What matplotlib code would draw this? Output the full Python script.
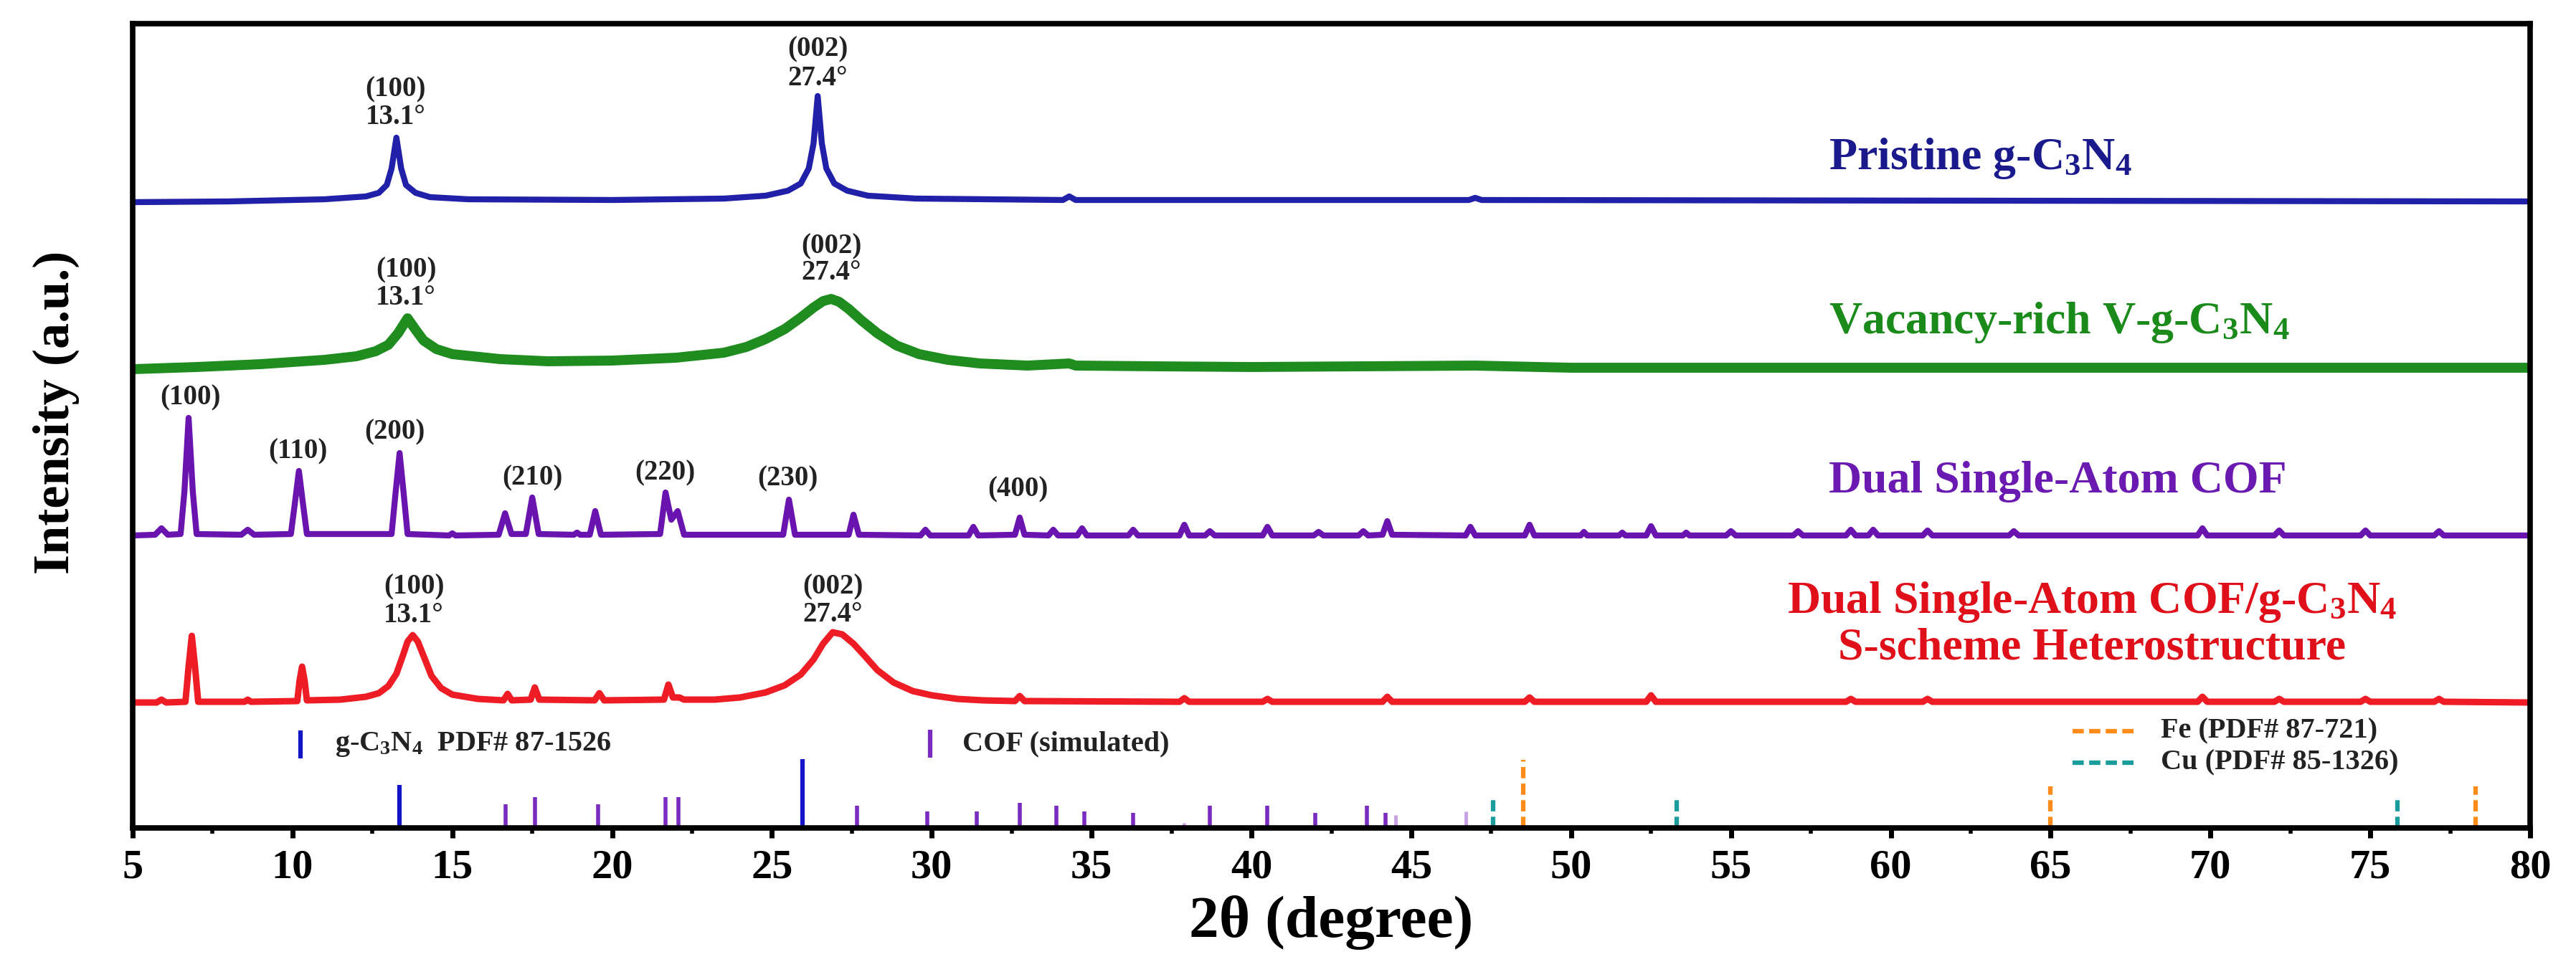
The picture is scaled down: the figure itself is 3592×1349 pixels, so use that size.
import numpy as np
import matplotlib.pyplot as plt
from matplotlib.ticker import MultipleLocator

plt.rcParams['font.family'] = ['Liberation Serif', 'DejaVu Serif']
plt.rcParams['font.weight'] = 'bold'
plt.rcParams['axes.labelweight'] = 'bold'
plt.rcParams['mathtext.fontset'] = 'custom'
plt.rcParams['mathtext.rm'] = 'Liberation Serif:bold'
plt.rcParams['mathtext.it'] = 'Liberation Serif:bold'
plt.rcParams['mathtext.bf'] = 'Liberation Serif:bold'
plt.rcParams['mathtext.default'] = 'rm'

# ---- patterns (2theta, stacked intensity a.u.) ----
blue_x = [5, 8, 11, 12.3, 12.7, 12.95, 13.1, 13.25, 13.4, 13.55, 13.85, 14.3, 15.5, 20,
          23.5, 24.8, 25.5, 25.9, 26.15, 26.3, 26.43, 26.56, 26.7, 26.95, 27.35, 28.0,
          29.5, 34.1, 34.3, 34.5, 46.8, 47.0, 47.2, 80]
blue_y = [873, 874, 877, 881, 886, 897, 920, 963, 920, 897, 886, 880, 877, 876,
          878, 882, 889, 899, 920, 955, 1021, 955, 920, 899, 889, 882,
          878, 876, 881, 876, 876, 879, 876, 874]

green_x = [5, 7, 9, 11, 12.0, 12.6, 13.0, 13.3, 13.6, 13.85, 14.1, 14.5, 15.0, 16.5, 18,
           20, 22, 23.5, 24.2, 24.8, 25.4, 25.9, 26.3, 26.6, 26.85, 27.1, 27.4, 27.8,
           28.3, 28.9, 29.6, 30.5, 31.5, 33, 34.3, 34.5, 37, 40, 47, 50, 80]
green_y = [640, 643, 647, 653, 658, 665, 674, 690, 711, 695, 680, 668, 661, 654, 651,
           652, 656, 663, 671, 682, 696, 712, 726, 735, 738, 734, 724, 708,
           690, 673, 661, 653, 648, 645, 648, 645, 644, 643, 645, 642, 642]

cof_x = [5, 5.7, 5.9, 6.1, 6.5, 6.62, 6.75, 6.88, 7.0, 8.4, 8.6, 8.8, 9.95, 10.08, 10.2,
         10.32, 10.45, 13.1, 13.23, 13.35, 13.47, 13.6, 14.9, 15.0, 15.1, 16.45, 16.65,
         16.85, 17.3, 17.5, 17.7, 18.8, 18.9, 19.0, 19.3, 19.47, 19.65, 21.5, 21.67,
         21.85, 22.05, 22.25, 25.35, 25.53, 25.72, 27.4, 27.55, 27.72, 29.65, 29.8,
         29.95, 31.15, 31.3, 31.45, 32.6, 32.75, 32.9, 33.65, 33.8, 33.95, 34.55, 34.7,
         34.85, 36.15, 36.3, 36.45, 37.75, 37.9, 38.05, 38.55, 38.7, 38.85, 40.35, 40.5,
         40.65, 41.95, 42.1, 42.25, 43.35, 43.5, 43.65, 44.1, 44.25, 44.4, 46.7, 46.85,
         47.0, 48.55, 48.7, 48.85, 50.3, 50.4, 50.5, 51.5, 51.6, 51.7, 52.35, 52.5, 52.65,
         53.5, 53.6, 53.7, 54.85, 55.0, 55.15, 56.95, 57.1, 57.25, 58.6, 58.75, 58.9,
         59.3, 59.45, 59.6, 61.0, 61.15, 61.3, 63.7, 63.85, 64.0, 69.6, 69.75, 69.9,
         72.0, 72.15, 72.3, 74.7, 74.85, 75.0, 77.0, 77.15, 77.3, 80]
cof_y = [408, 409, 418, 409, 410, 470, 572, 470, 410, 409, 416, 409, 410, 455, 498,
         455, 410, 410, 470, 523, 470, 410, 408, 411, 408, 409, 439,
         410, 410, 461, 410, 409, 412, 409, 409, 442, 409, 410, 468,
         430, 442, 409, 409, 458, 409, 409, 437, 409, 408, 416,
         408, 408, 420, 408, 409, 433, 409, 408, 416, 408, 408, 418,
         408, 408, 416, 408, 408, 423, 408, 408, 414, 408, 408, 420,
         408, 408, 413, 408, 408, 414, 408, 409, 428, 409, 408, 420,
         408, 408, 423, 408, 408, 413, 408, 408, 412, 408, 408, 421, 408,
         408, 412, 408, 408, 414, 408, 408, 414, 408, 408, 416, 408,
         408, 416, 408, 408, 415, 408, 408, 414, 408, 408, 418, 408,
         408, 415, 408, 408, 415, 408, 408, 414, 408, 408]

het_x = [5, 5.75, 5.9, 6.05, 6.65, 6.75, 6.85, 6.95, 7.05, 8.5, 8.6, 8.7, 10.15, 10.22,
         10.3, 10.38, 10.45, 11.5, 12.3, 12.7, 13.0, 13.25, 13.45, 13.6, 13.76, 13.92,
         14.1, 14.35, 14.65, 15.0, 15.8, 16.6, 16.73, 16.86, 17.45, 17.58, 17.72, 19.45,
         19.6, 19.75, 21.62, 21.76, 21.9, 22.1, 22.25, 23.2, 24.0, 24.8, 25.4, 25.9, 26.3,
         26.6, 26.9, 27.2, 27.55, 27.9, 28.3, 28.8, 29.4, 30.0, 30.8, 31.6, 32.6, 32.75,
         32.9, 37.75, 37.9, 38.05, 40.35, 40.5, 40.65, 44.1, 44.25, 44.4, 48.55, 48.7,
         48.85, 52.35, 52.5, 52.65, 58.6, 58.75, 58.9, 61.0, 61.15, 61.3, 69.6, 69.75,
         69.9, 72.0, 72.15, 72.3, 74.7, 74.85, 75.0, 77.0, 77.15, 77.3, 80]
het_y = [175, 175, 179, 175, 176, 225, 268, 225, 176, 176, 179, 176, 177, 205,
         225, 205, 178, 179, 183, 188, 198, 215, 240, 260, 269, 260,
         240, 212, 195, 186, 180, 178, 187, 178, 179, 196, 179, 178,
         188, 178, 179, 200, 182, 182, 179, 179, 182, 189, 199, 214, 235,
         257, 273, 270, 257, 240, 220, 203, 191, 185, 180, 178, 177, 184,
         177, 176, 181, 176, 176, 180, 176, 176, 183, 176, 176, 182,
         176, 176, 185, 176, 176, 180, 176, 176, 180, 176, 176, 183,
         176, 176, 180, 176, 176, 180, 176, 176, 180, 176, 175]

# ---- reference sticks (position, height) ----
gcn_pos = [13.35, 25.95]
gcn_h = [60, 96]
cof_pos = [16.67, 17.58, 19.56, 21.67, 22.08, 27.65, 29.85, 31.4, 32.76, 33.9, 34.76,
           36.3, 38.7, 40.5, 42.0, 43.6, 44.2]
cof_h = [33, 43, 33, 43, 43, 31, 23, 23, 35, 31, 23, 21, 31, 31, 21, 31, 21]
cof_faint_pos = [37.9, 44.5, 46.7]
cof_faint_h = [7, 18, 23]
fe_pos = [48.5, 65.0, 78.3]
fe_h = [95, 58, 58]
cu_pos = [47.55, 53.3, 75.85]
cu_h = [42, 42, 42]

# ---- labels ----
peak_labels = [(13.23, 1030, "(100)"), (13.23, 992, "13.1°"),
               (26.43, 1086, "(002)"), (26.43, 1046, "27.4°"),
               (13.55, 778, "(100)"), (13.55, 740, "13.1°"),
               (26.86, 811, "(002)"), (26.86, 775, "27.4°"),
               (6.8, 600, "(100)"), (10.16, 525, "(110)"), (13.19, 552, "(200)"),
               (17.5, 488, "(210)"), (21.65, 495, "(220)"), (25.5, 487, "(230)"),
               (32.7, 472, "(400)"),
               (13.8, 336, "(100)"), (13.8, 297, "13.1°"),
               (26.9, 336, "(002)"), (26.9, 298, "27.4°")]
xticks = list(range(5, 81, 5))

fig = plt.figure(figsize=(35.92, 13.49), dpi=100)
ax = fig.add_axes([185 / 3592, 1 - 1155 / 1349, 3343 / 3592, 1122 / 1349])

ax.plot(blue_x, blue_y, color='#2020a8', lw=6)
ax.plot(green_x, green_y, color='#1e8c1e', lw=10)
ax.plot(cof_x, cof_y, color='#6a14b0', lw=6)
ax.plot(het_x, het_y, color='#ee1c24', lw=6.5)

ax.vlines(gcn_pos, 0, gcn_h, color='#1414c8', lw=4.5)
ax.vlines(cof_pos, 0, cof_h, color='#7a2cc0', lw=4)
ax.vlines(cof_faint_pos, 0, cof_faint_h, color='#c9a0e6', lw=3.5)
ax.vlines(fe_pos, 0, fe_h, color='#ff8c1a', lw=4.5, linestyles=(0, (2.5, 1.2)))
ax.vlines(cu_pos, 0, cu_h, color='#1a9c9c', lw=4.5, linestyles=(0, (2.5, 1.2)))

# legend keys drawn as in the figure
ax.vlines([10.24], 97, 136, color='#1414c8', lw=4.5)
ax.text(11.33, 116, "g-C$_3$N$_4$  PDF# 87-1526", fontsize=29, va='center', ha='left', color='#222222')
ax.vlines([29.95], 98, 137, color='#7a2cc0', lw=4.5)
ax.text(30.96, 117, "COF (simulated)", fontsize=29, va='center', ha='left', color='#222222')
ax.hlines([135], 65.69, 67.62, color='#ff8c1a', lw=4.5, linestyles=(0, (2.5, 1.2)))
ax.text(68.45, 135, "Fe (PDF# 87-721)", fontsize=29, va='center', ha='left', color='#222222')
ax.hlines([91], 65.69, 67.62, color='#1a9c9c', lw=4.5, linestyles=(0, (2.5, 1.2)))
ax.text(68.45, 91, "Cu (PDF# 85-1326)", fontsize=29, va='center', ha='left', color='#222222')

for x, y, s in peak_labels:
    ax.text(x, y, s, fontsize=28, ha='center', va='center', color='#222222')

ax.text(58.05, 934, "Pristine g-C$_3$N$_4$", fontsize=46, ha='left', va='center', color='#1a1a8c')
ax.text(58.05, 705, "Vacancy-rich V-g-C$_3$N$_4$", fontsize=46, ha='left', va='center', color='#1a8a1a')
ax.text(58.05, 483, "Dual Single-Atom COF", fontsize=46, ha='left', va='center', color='#6a1ab0')
ax.text(66.3, 284, "Dual Single-Atom COF/g-C$_3$N$_4$\nS-scheme Heterostructure", fontsize=46,
        ha='center', va='center', color='#e0101a', linespacing=1.1, multialignment='center')

ax.set_xlim(5, 80)
ax.set_ylim(0, 1122)
ax.set_xticks(xticks)
ax.xaxis.set_minor_locator(MultipleLocator(2.5))
ax.set_yticks([])
ax.tick_params(axis='x', which='major', direction='out', length=10, width=5, labelsize=42, pad=11)
ax.tick_params(axis='x', which='minor', direction='out', length=6, width=4)
for lab in ax.get_xticklabels():
    lab.set_fontweight('bold')
for sp in ax.spines.values():
    sp.set_linewidth(5.5)

ax.set_xlabel("2θ (degree)", fontsize=60, fontweight='bold')
ax.xaxis.set_label_coords(0.5, -0.1176)
ax.xaxis.label.set_va('center')
ax.set_ylabel("Intensity (a.u.)", fontsize=52, fontweight='bold')
ax.yaxis.set_label_coords(-0.032, 0.517)
ax.yaxis.label.set_va('center')

fig.savefig("out.png", dpi=100)
